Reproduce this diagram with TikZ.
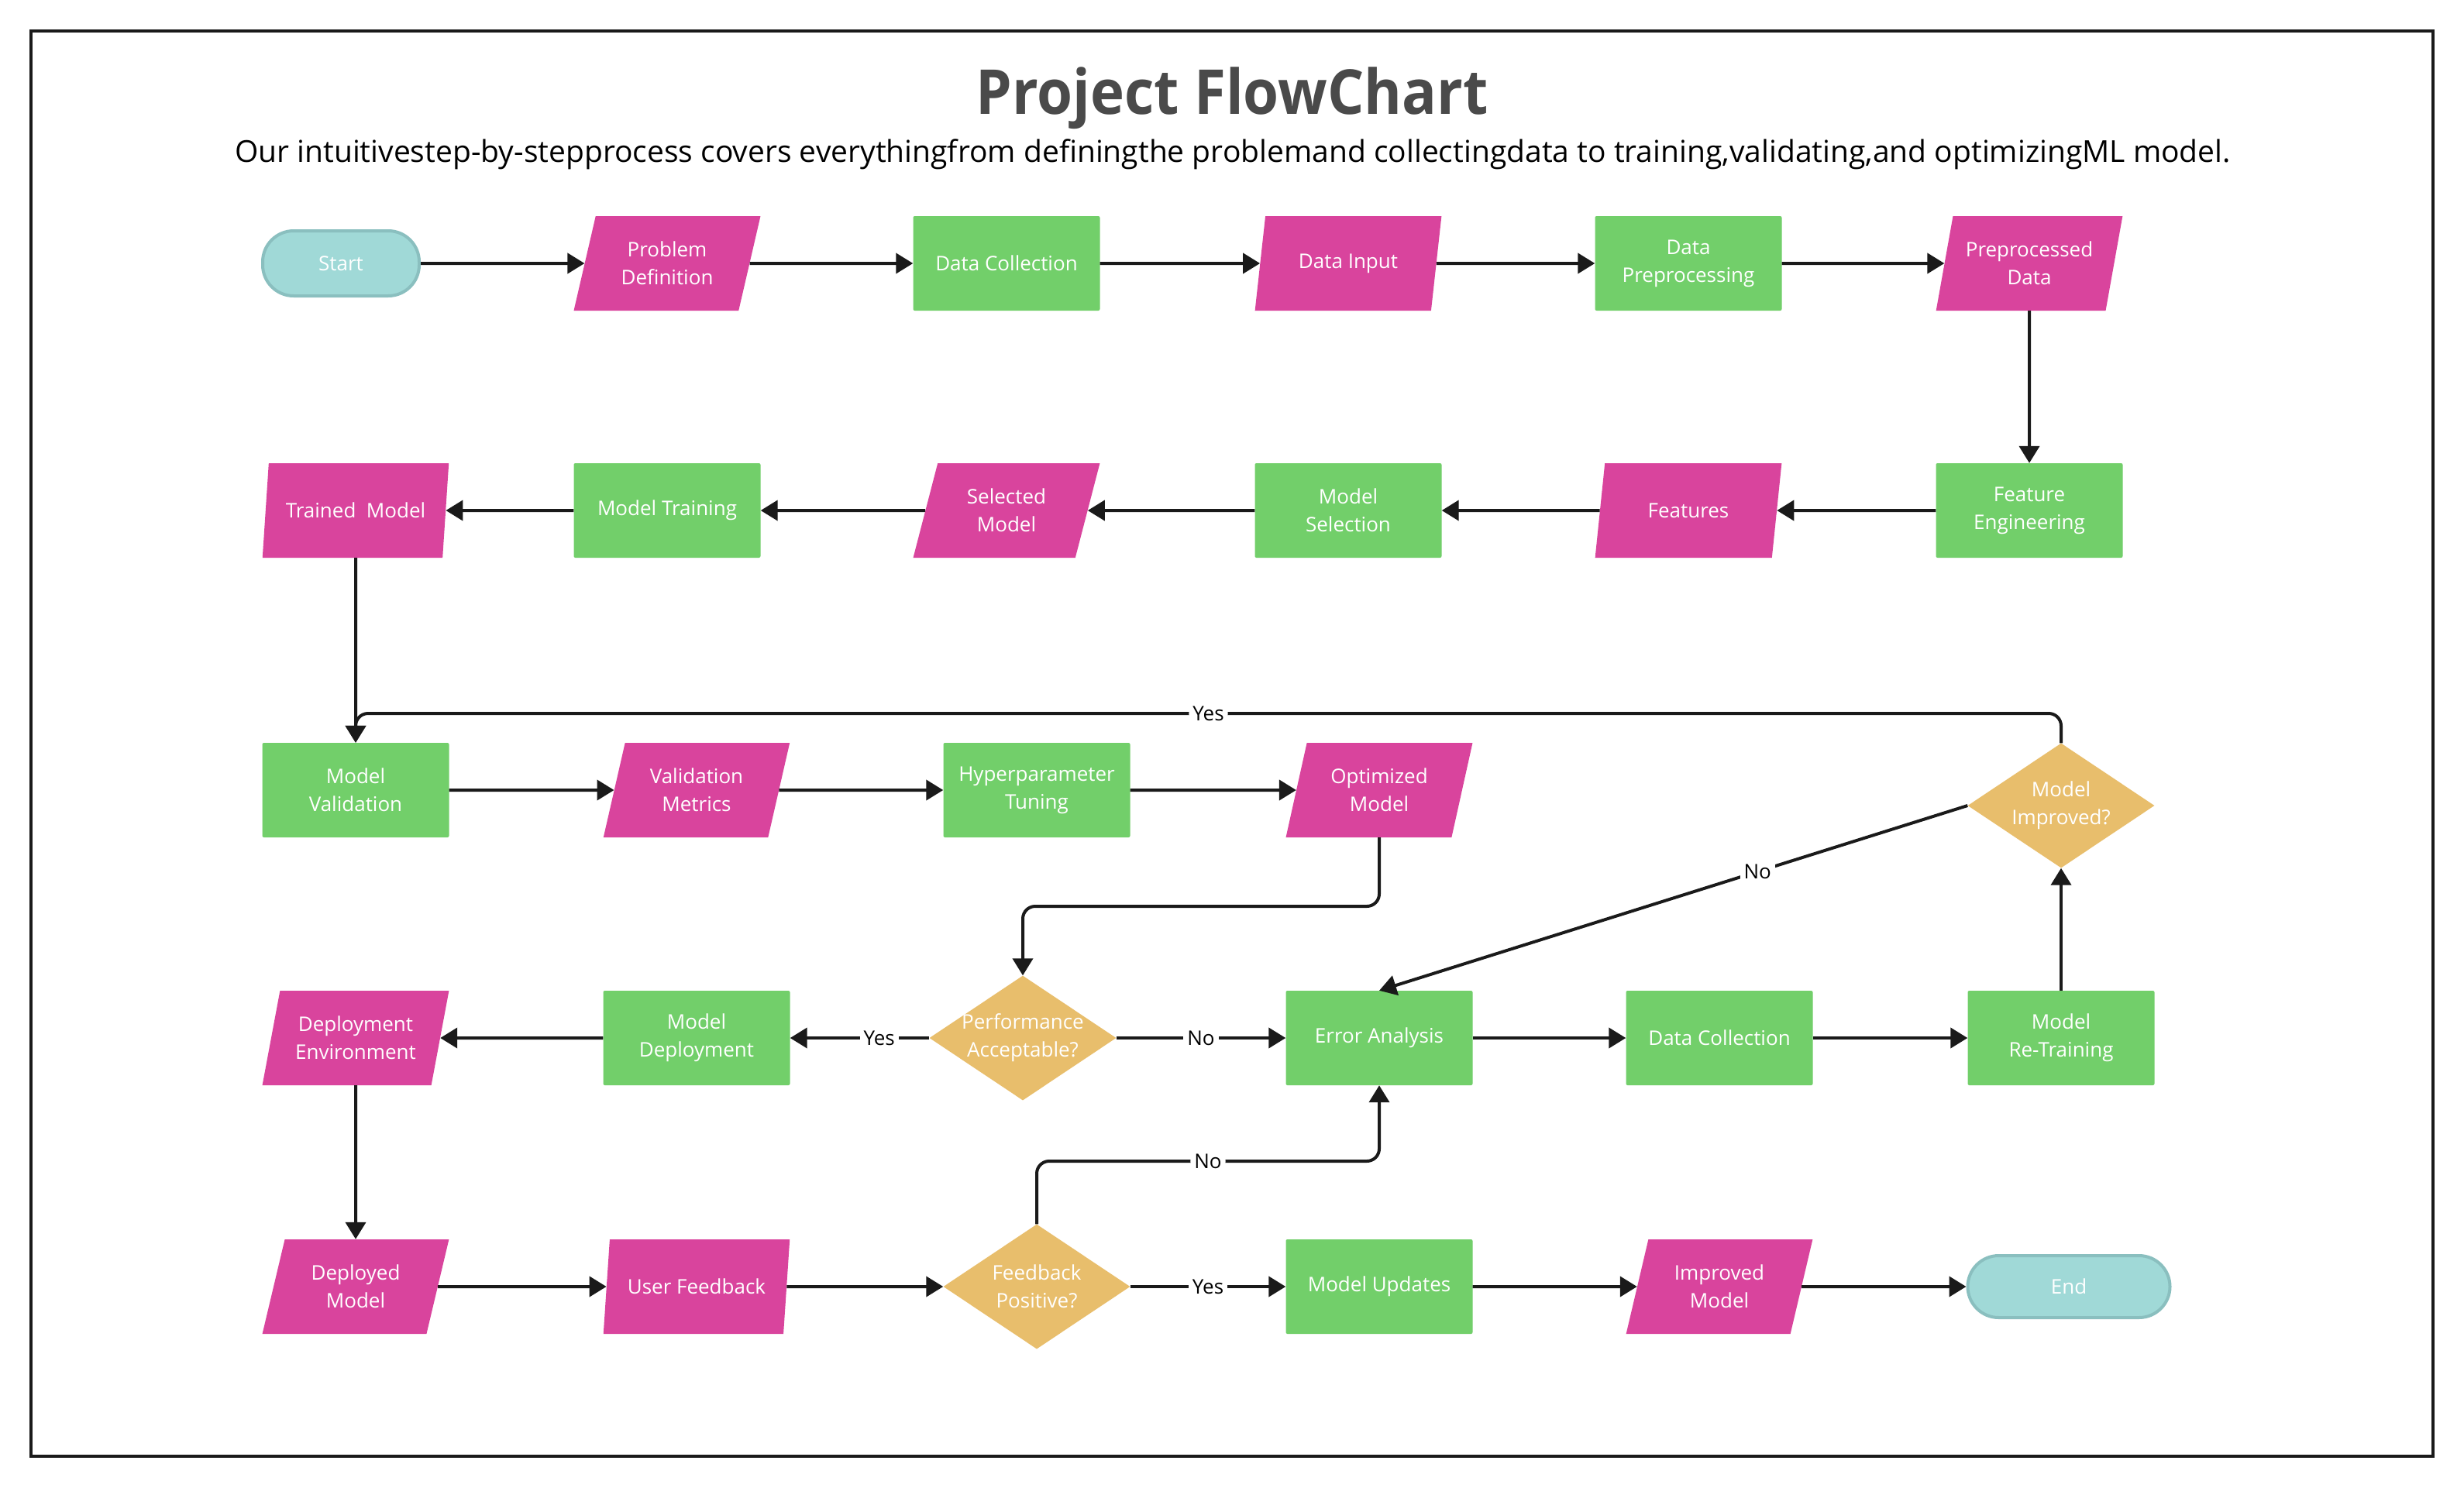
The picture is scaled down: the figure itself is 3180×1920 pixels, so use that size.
\documentclass[tikz,border=0pt]{standalone}
\usepackage{fontspec}
\setmainfont{Open Sans}
\newfontfamily\titlefont{Open Sans}[FakeStretch=0.93]
\usetikzlibrary{shapes.geometric,arrows.meta}
\definecolor{pinkc}{HTML}{D9449D}
\definecolor{greenc}{HTML}{72CF6A}
\definecolor{goldc}{HTML}{E8BE6C}
\definecolor{tealf}{HTML}{A0D9D7}
\definecolor{teald}{HTML}{8ABFBF}
\definecolor{linec}{HTML}{1A1A1A}
\definecolor{titlec}{HTML}{4A4A4A}
\begin{document}
\begin{tikzpicture}[x=1pt,y=-1pt,
 every node/.style={font=\fontsize{26}{36}\selectfont, text=white, align=center, inner sep=0pt},
 procbox/.style={rectangle, fill=greenc, minimum width=241pt, minimum height=122pt, rounded corners=2pt},
 iobox/.style={trapezium, trapezium left angle=72, trapezium right angle=108, trapezium stretches=true, fill=pinkc, minimum width=241pt, minimum height=122pt},
 decbox/.style={diamond, fill=goldc, minimum width=241pt, minimum height=161pt},
 termbox/.style={rectangle, rounded corners=40pt, fill=tealf, draw=teald, line width=4pt},
 arr/.style={draw=linec, line width=4pt, -{Triangle[length=22pt,width=26pt]}},
 lbl/.style={text=black, fill=white, inner sep=5pt}
]
\useasboundingbox[fill=white] (0,0) rectangle (3180,1920);
\draw[linec, line width=4pt] (40,40) rectangle (3140,1880);

\node[font=\titlefont\bfseries\fontsize{80}{90}\selectfont, text=titlec, anchor=base] (title) at (1590,147) {Project FlowChart};
\node[font=\fontsize{39}{44}\selectfont, text=black, anchor=base] (sub) at (1591,209) {Our intuitivestep-by-stepprocess covers everythingfrom definingthe problemand collectingdata to training,validating,and optimizingML model.};

% row 1
\node[termbox, minimum width=202pt, minimum height=84pt] (start) at (440,340) {Start};
\node[iobox] (pd) at (861,340) {Problem\\Definition};
\node[procbox] (dc1) at (1299,340) {Data Collection};
\node[iobox] (di) at (1740,340) {Data Input};
\node[procbox] (dp) at (2179,340) {Data\\Preprocessing};
\node[iobox] (ppd) at (2619,340) {Preprocessed\\Data};
% row 2
\node[procbox] (fe) at (2619,659) {Feature\\Engineering};
\node[iobox] (feat) at (2179,659) {Features};
\node[procbox] (ms) at (1740,659) {Model\\Selection};
\node[iobox] (sm) at (1299,659) {Selected\\Model};
\node[procbox] (mt) at (861,659) {Model Training};
\node[iobox] (tm) at (459,659) {Trained~~Model};
% row 3
\node[procbox] (mv) at (459,1020) {Model\\Validation};
\node[iobox] (vm) at (899,1020) {Validation\\Metrics};
\node[procbox] (ht) at (1338,1020) {Hyperparameter\\Tuning};
\node[iobox] (om) at (1780,1020) {Optimized\\Model};
\node[decbox, label=center:{Model\\Improved?}] (mi) at (2660,1040) {};
% row 4
\node[iobox] (de) at (459,1340) {Deployment\\Environment};
\node[procbox] (md) at (899,1340) {Model\\Deployment};
\node[decbox, label=center:{Performance\\Acceptable?}] (pa) at (1320,1340) {};
\node[procbox] (ea) at (1780,1340) {Error Analysis};
\node[procbox] (dc2) at (2219,1340) {Data Collection};
\node[procbox] (mrt) at (2660,1340) {Model\\Re-Training};
% row 5
\node[iobox] (dm) at (459,1661) {Deployed\\Model};
\node[iobox] (uf) at (899,1661) {User Feedback};
\node[decbox, label=center:{Feedback\\Positive?}] (fp) at (1338,1661) {};
\node[procbox] (mu) at (1780,1661) {Model Updates};
\node[iobox] (im) at (2219,1661) {Improved\\Model};
\node[termbox, minimum width=261pt, minimum height=80pt] (end) at (2670,1661) {End};

% connectors
\draw[arr] (start.east) -- (pd.west);
\draw[arr] (pd.east) -- (dc1.west);
\draw[arr] (dc1.east) -- (di.west);
\draw[arr] (di.east) -- (dp.west);
\draw[arr] (dp.east) -- (ppd.west);
\draw[arr] (ppd.south) -- (fe.north);
\draw[arr] (fe.west) -- (feat.east);
\draw[arr] (feat.west) -- (ms.east);
\draw[arr] (ms.west) -- (sm.east);
\draw[arr] (sm.west) -- (mt.east);
\draw[arr] (mt.west) -- (tm.east);
\draw[arr] (tm.south) -- (mv.north);
\draw[arr] (mv.east) -- (vm.west);
\draw[arr] (vm.east) -- (ht.west);
\draw[arr] (ht.east) -- (om.west);
\draw[arr, rounded corners=16pt] (om.south) -- (om.south |- 0,1170) -- (pa.north |- 0,1170) -- (pa.north);
\draw[arr] (pa.west) -- node[lbl, pos=0.36] {Yes} (md.east);
\draw[arr] (md.west) -- (de.east);
\draw[arr] (pa.east) -- node[lbl] {No} (ea.west);
\draw[arr] (de.south) -- (dm.north);
\draw[arr] (dm.east) -- (uf.west);
\draw[arr] (uf.east) -- (fp.west);
\draw[arr] (fp.east) -- node[lbl] {Yes} (mu.west);
\draw[arr] (mu.east) -- (im.west);
\draw[arr] (im.east) -- (end.west);
\draw[arr, rounded corners=16pt] (fp.north) -- (fp.north |- 0,1499) -- node[lbl] {No} (ea.south |- 0,1499) -- (ea.south);
\draw[arr] (ea.east) -- (dc2.west);
\draw[arr] (dc2.east) -- (mrt.west);
\draw[arr] (mrt.north) -- (mi.south);
\draw[arr] (mi.west) -- node[lbl, pos=0.357] {No} (ea.north);
\draw[arr, rounded corners=16pt] (mi.north) -- (mi.north |- 0,921) -- node[lbl] {Yes} (mv.north |- 0,921) -- (mv.north);
\end{tikzpicture}
\end{document}
